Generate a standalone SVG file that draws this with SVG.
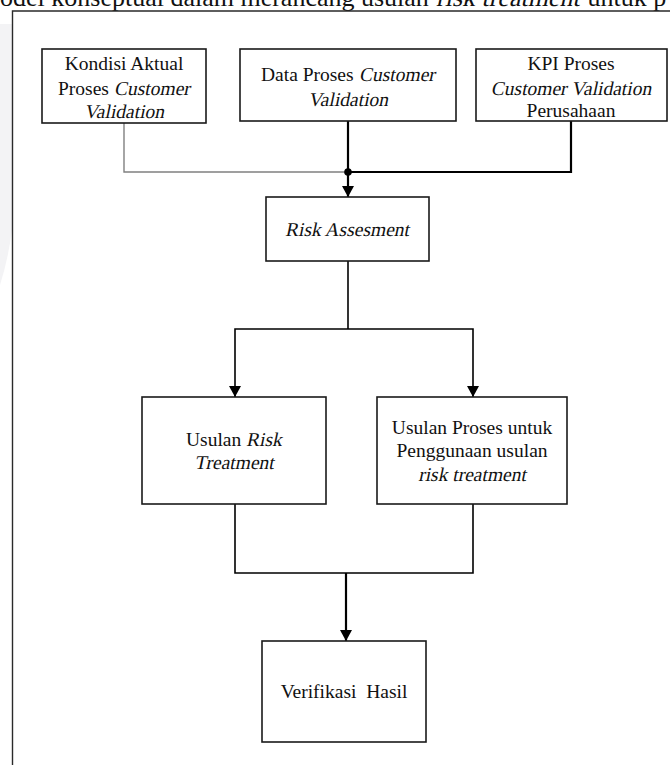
<svg xmlns="http://www.w3.org/2000/svg" width="670" height="765" viewBox="0 0 670 765">
<defs>
<style>
.box{fill:#fff;stroke:#1a1a1a;stroke-width:1.6}
.t{font-family:"Liberation Serif","Times New Roman",serif;font-size:19.5px;fill:#111;text-anchor:middle}
.s{text-anchor:start}
.cap{font-family:"Liberation Serif","Times New Roman",serif;font-size:26px;fill:#111}
.c{fill:none;stroke:#000;stroke-width:1.6}
.cb{fill:none;stroke:#000;stroke-width:2.2}
.cg{fill:none;stroke:#808080;stroke-width:1.4}
</style>
<marker id="ah" markerWidth="12" markerHeight="12" refX="11" refY="6" orient="auto" markerUnits="userSpaceOnUse">
<path d="M0,0 L11,6 L0,12 Z" fill="#000"/>
</marker>
</defs>
<rect width="670" height="765" fill="#fff"/>
<path d="M0,24 L12,24 L12,230 Q8,260 0,285 Z" fill="#f3f3f5"/>
<text class="cap" x="0" y="6">odel konseptual dalam merancang usulan </text>
<text class="cap" transform="translate(436,6) skewX(-12)">risk treatment</text>
<text class="cap" x="581" y="6" xml:space="preserve"> untuk p</text>
<path d="M12.5,775 V11 H680" fill="none" stroke="#2a2a2a" stroke-width="1.4"/>

<g id="connectors">
<path class="cg" d="M124,123 V172 H348"/>
<path class="cb" d="M571,121 V172 H348"/>
<path class="cb" d="M348,121 V197" marker-end="url(#ah)"/>
<circle cx="348" cy="172" r="3.8" fill="#000"/>
<path class="c" d="M348,261 V329"/>
<path class="c" d="M348,329 H235 V397" marker-end="url(#ah)"/>
<path class="c" d="M348,329 H473 V397" marker-end="url(#ah)"/>
<path class="c" d="M235,504 V573 H473 V504"/>
<path class="cb" d="M346,573 V641" marker-end="url(#ah)"/>
</g>

<g id="kondisi">
<rect class="box" x="42" y="49" width="164" height="74"/>
<text class="t" x="124" y="70">Kondisi Aktual</text>
<text class="t s" x="58" y="95">Proses </text>
<text class="t s" transform="translate(114,95) skewX(-12)">Customer</text>
<text class="t" transform="translate(124,118) skewX(-12)">Validation</text>
</g>

<g id="data">
<rect class="box" x="240" y="49" width="216" height="72"/>
<text class="t s" x="261" y="81">Data Proses </text>
<text class="t s" transform="translate(359,81) skewX(-12)">Customer</text>
<text class="t" transform="translate(348,106) skewX(-12)">Validation</text>
</g>

<g id="kpi">
<rect class="box" x="476" y="49" width="191" height="72"/>
<text class="t" x="571" y="70">KPI Proses</text>
<text class="t" transform="translate(571,95) skewX(-12)">Customer Validation</text>
<text class="t" x="571" y="117">Perusahaan</text>
</g>

<g id="risk">
<rect class="box" x="266" y="197" width="163" height="64"/>
<text class="t" transform="translate(347,236) skewX(-12)">Risk Assesment</text>
</g>

<g id="usulan-risk">
<rect class="box" x="142" y="397" width="184" height="107"/>
<text class="t s" x="186" y="446">Usulan </text>
<text class="t s" transform="translate(246,446) skewX(-12)">Risk</text>
<text class="t" transform="translate(234,469) skewX(-12)">Treatment</text>
</g>

<g id="usulan-proses">
<rect class="box" x="377" y="397" width="190" height="107"/>
<text class="t" x="472" y="434">Usulan Proses untuk</text>
<text class="t" x="472" y="457">Penggunaan usulan</text>
<text class="t" transform="translate(472,481) skewX(-12)">risk treatment</text>
</g>

<g id="verifikasi">
<rect class="box" x="262" y="641" width="164" height="101"/>
<text class="t" x="344" y="698" xml:space="preserve">Verifikasi  Hasil</text>
</g>
</svg>
